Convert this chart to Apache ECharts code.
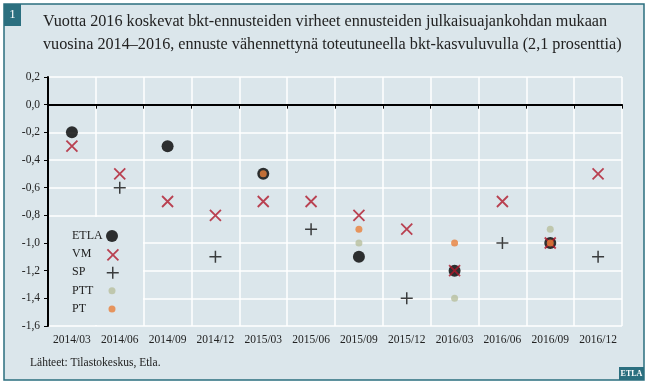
<!DOCTYPE html>
<html>
<head>
<meta charset="utf-8">
<script src="https://cdn.jsdelivr.net/npm/echarts@6/dist/echarts.min.js"></script>
<style>
html,body{margin:0;padding:0;background:#fff;}
#c{width:651px;height:387px;}
</style>
</head>
<body>
<div id="c"></div>
<script>
var categories = ['2014/03','2014/06','2014/09','2014/12','2015/03','2015/06','2015/09','2015/12','2016/03','2016/06','2016/09','2016/12'];
var etla = [-0.2, '-', -0.3, '-', -0.5, '-', -1.1, '-', -1.2, '-', -1.0, '-'];
var vm   = [-0.3, -0.5, -0.7, -0.8, -0.7, -0.7, -0.8, -0.9, -1.2, -0.7, -1.0, -0.5];
var sp   = ['-', -0.6, '-', -1.1, '-', -0.9, '-', -1.4, '-', -1.0, '-', -1.1];
var ptt  = ['-', '-', '-', '-', '-', '-', -1.0, '-', -1.4, '-', -0.9, '-'];
var pt   = ['-', '-', '-', '-', -0.5, '-', -0.9, '-', -1.0, '-', -1.0, '-'];
var seriesNames = ['ETLA', 'VM', 'SP', 'PTT', 'PT'];
var titleLines = ['Vuotta 2016 koskevat bkt-ennusteiden virheet ennusteiden julkaisuajankohdan mukaan',
                  'vuosina 2014\u20132016, ennuste vähennettynä toteutuneella bkt-kasvuluvulla (2,1 prosenttia)'];
var sourceText = 'Lähteet: Tilastokeskus, Etla.';

var BG = '#dbe6eb', TEAL = '#2b6f7f', FONT = '"Liberation Serif", "DejaVu Serif", serif';
var RED = '#b0182a';
var XPATH = 'path://M0,0L10,10M10,0L0,10';
var PPATH = 'path://M5,0L5,10M0,5L10,5';

// legend layout: icon size, icon centre y
var legendLayout = [
  {size:12, cy:236}, {size:11, cy:254}, {size:12, cy:272}, {size:7, cy:290.7}, {size:7, cy:309}
];
var legendItemStyle = [
  {}, {borderWidth:1.8, color:'rgba(0,0,0,0)', borderColor:RED}, {borderWidth:1.5, color:'rgba(0,0,0,0)', borderColor:'#111'}, {}, {}
];
var legends = seriesNames.map(function(n, i){
  var L = legendLayout[i];
  var item = {name:n};
  if (legendItemStyle[i].borderColor) item.itemStyle = legendItemStyle[i];
  return {orient:'vertical', left:112 - L.size/2, top:L.cy - L.size/2, padding:0, align:'left',
    itemWidth:L.size, itemHeight:L.size, selectedMode:false,
    formatter:function(){return '';}, textStyle:{fontSize:1},
    data:[item]};
});
var legendTexts = seriesNames.map(function(n, i){
  return {type:'text', z:6, x:72, y:legendLayout[i].cy, style:{text:n, fill:'#222', font:'12px ' + FONT, verticalAlign:'middle'}};
});

var chart = echarts.init(document.getElementById('c'), null, {renderer:'canvas'});
chart.setOption({
  animation: false,
  backgroundColor: '#fff',
  textStyle: {fontFamily: FONT},
  graphic: [
    {type:'rect', z:-10, shape:{x:4, y:4, width:640, height:376}, style:{fill:BG, stroke:TEAL, lineWidth:1.5}},
    {type:'rect', z:5, shape:{x:4, y:4, width:17, height:22}, style:{fill:TEAL}},
    {type:'text', z:6, x:12.5, y:15, style:{text:'1', fill:'#fff', font:'13px ' + FONT, align:'center', verticalAlign:'middle'}},
    {type:'text', z:6, x:43, y:22, style:{text:titleLines[0], fill:'#222', font:'16.2px ' + FONT, verticalAlign:'middle'}},
    {type:'text', z:6, x:43, y:45, style:{text:titleLines[1], fill:'#222', font:'16.2px ' + FONT, verticalAlign:'middle'}},
    {type:'text', z:6, x:30, y:363, style:{text:sourceText, fill:'#222', font:'11.5px ' + FONT, verticalAlign:'middle'}},
    {type:'rect', z:5, shape:{x:619, y:367, width:25, height:13}, style:{fill:TEAL}},
    {type:'text', z:6, x:631.5, y:374, style:{text:'ETLA', fill:'#fff', font:'bold 8px ' + FONT, align:'center', verticalAlign:'middle'}},
    {type:'rect', z:1, shape:{x:49, y:217, width:94, height:108}, style:{fill:BG}}
  ].concat(legendTexts),
  grid: {left:48, right:29, top:77, bottom:61, containLabel:false},
  xAxis: {
    type:'category', data:categories, boundaryGap:true,
    axisLine:{lineStyle:{color:'#000', width:2}},
    axisTick:{show:true, interval:0, length:4, lineStyle:{color:'#000', width:1}},
    axisLabel:{interval:0, color:'#222', fontSize:11.5, fontFamily:FONT, margin:8},
    splitLine:{show:true, interval:0, lineStyle:{color:'#fff', width:1.5}}
  },
  yAxis: {
    type:'value', min:-1.6, max:0.2, interval:0.2,
    axisLine:{show:true, lineStyle:{color:'#000', width:2}},
    axisTick:{show:true, length:4, lineStyle:{color:'#000', width:1}},
    axisLabel:{color:'#222', fontSize:11.5, fontFamily:FONT, margin:8,
      formatter:function(v){ var s=(Math.round(v*10)/10).toFixed(1).replace('.',','); return s==='-0,0'?'0,0':s; }},
    splitLine:{show:true, lineStyle:{color:'#fff', width:1.5}}
  },
  legend: legends,
  series: [
    {name:'ETLA', type:'scatter', data:etla, symbol:'circle', symbolSize:12, itemStyle:{color:'#000'},
     markLine:{silent:true, symbol:'none', label:{show:false}, lineStyle:{color:'#000', width:2, type:'solid'}, data:[{yAxis:0}]}},
    {name:'VM', type:'scatter', data:vm, symbol:XPATH, symbolSize:11, itemStyle:{color:'rgba(0,0,0,0)', borderColor:RED, borderWidth:1.8}},
    {name:'SP', type:'scatter', data:sp, symbol:PPATH, symbolSize:12, itemStyle:{color:'rgba(0,0,0,0)', borderColor:'#111', borderWidth:1.5}},
    {name:'PTT', type:'scatter', data:ptt, symbol:'circle', symbolSize:7, itemStyle:{color:'#b8bf9e'}},
    {name:'PT', type:'scatter', data:pt, symbol:'circle', symbolSize:7, itemStyle:{color:'#e8803a'}}
  ]
});
</script>
</body>
</html>
